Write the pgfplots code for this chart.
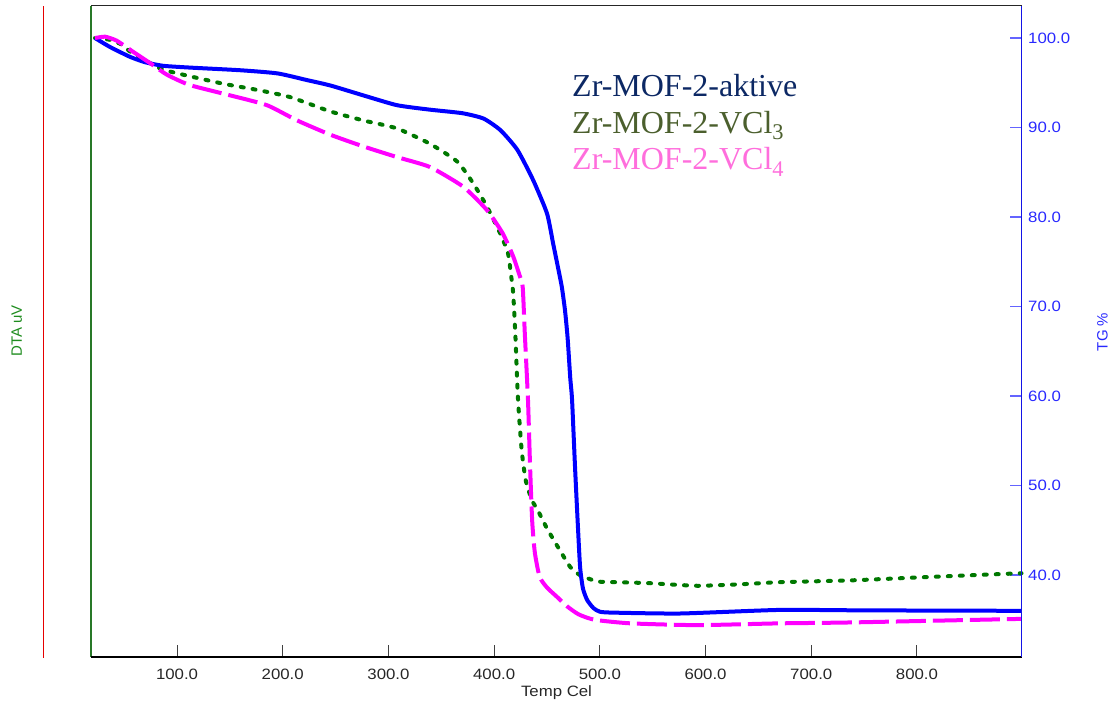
\documentclass[border=0pt]{standalone}
\usepackage{fontspec}
\setmainfont{Liberation Sans}
\newfontfamily\serifleg{Liberation Serif}
\newfontfamily\tickfont[FakeStretch=1.12]{Liberation Sans}
\usepackage{pgfplots}
\pgfplotsset{compat=1.18}
\definecolor{tgblue}{RGB}{0,0,255}
\definecolor{dtagreen}{RGB}{0,120,0}
\definecolor{magline}{RGB}{255,0,255}
\definecolor{axgreen}{RGB}{40,120,40}
\definecolor{rightblue}{RGB}{20,20,230}
\definecolor{ticklightblue}{RGB}{100,100,255}
\definecolor{labelblue}{RGB}{40,40,255}
\definecolor{dtalabel}{RGB}{30,140,30}
\definecolor{dtared}{RGB}{230,0,0}
\definecolor{legnavy}{RGB}{12,40,100}
\definecolor{legolive}{RGB}{75,95,45}
\definecolor{legpink}{RGB}{255,110,220}

\pgfplotstableread{
T Y
22.4 100.0
36.6 99.0
55.5 97.9
69.7 97.3
86.8 96.9
112 96.7
160 96.4
195 96.05
223 95.3
245 94.7
276 93.6
308 92.5
339 92.0
370 91.6
390 91.0
406 89.7
422 87.5
437 84.1
450 80.4
455.7 77.1
460 74.6
464 72.2
467 69.6
469.5 66.5
472 62
473.7 59.6
476.5 52.1
479 46
481.3 40.9
484 38.5
488 37.2
494 36.3
500 35.9
512 35.8
576 35.7
670 36.1
750 36.05
898.9 36.0
}\aktive

\pgfplotstableread{
T Y
22.4 100.0
36.6 99.8
49 99.2
55.5 98.5
84 96.6
106 95.9
143.5 94.9
176 94.2
207 93.4
245 91.8
276 90.8
308 89.9
339 88.2
365 86.2
380 83.8
393 81.2
405.6 78.2
413 76.0
416 73.5
418 71.5
420 67
422.6 59.6
426 54
430 50.5
436 48.3
441 47.3
450 45.2
462 42.8
472 40.9
481 40.0
494 39.4
500 39.25
545 39.1
592 38.8
639 39.0
670 39.2
737 39.4
815 39.8
898.9 40.2
}\vclthree

\pgfplotstableread{
T Y
22.4 100.0
32 100.15
43 99.7
58 98.5
74.5 97.2
90.5 95.9
112 94.75
150 93.6
185 92.5
213.5 90.8
245 89.2
276 87.9
308 86.7
339 85.6
370.6 83.4
393 80.8
408 78.2
418 75.6
424 73.5
427 72.2
429 67
432 59.6
434 52.1
436 46
438.5 42.5
443 39.8
450 38.6
460 37.5
469 36.5
480 35.6
495 35.0
529 34.6
592 34.4
670 34.6
737 34.7
898.9 35.1
}\vclfour

\begin{document}
\begin{tikzpicture}
\path[use as bounding box] (-91pt,-47pt) rectangle (1026pt,657pt);
\begin{axis}[
  at={(0pt,0pt)}, anchor=south west, scale only axis,
  width=930.5pt, height=651pt,
  xmin=18.6, xmax=898.9, ymin=30.84, ymax=103.58,
  axis line style={draw=none},
  xtick={100,200,300,400,500,600,700,800},
  xticklabels={100.0,200.0,300.0,400.0,500.0,600.0,700.0,800.0},
  ytick={40,50,60,70,80,90,100},
  yticklabels={40.0,50.0,60.0,70.0,80.0,90.0,100.0},
  xtick pos=bottom, ytick pos=right, yticklabel pos=right,
  tick align=inside,
  major tick length=12pt,
  xtick style={black!75, line width=1pt},
  ytick style={ticklightblue, line width=1.2pt},
  tick label style={font=\tickfont\fontsize{15}{18}\selectfont},
  xticklabel style={anchor=base, yshift=-23pt, text=black!85},
  yticklabel style={anchor=west, inner sep=0pt, xshift=6.5pt, text=labelblue},
  clip=false,
]
\addplot[dtagreen, line width=4pt, line cap=round, dash pattern=on 3pt off 9pt, smooth, tension=0.35] table {\vclthree};
\addplot[tgblue, line width=4pt, line join=round, smooth, tension=0.35] table {\aktive};
\addplot[magline, line width=4pt, dash pattern=on 30pt off 7pt, smooth, tension=0.35] table {\vclfour};
\end{axis}
% axis frame
\draw[axgreen, line width=1.5pt] (0pt,0pt) -- (0pt,651pt);
\draw[black!85, line width=1pt] (0pt,651pt) -- (930.5pt,651pt);
\draw[black, line width=1.3pt] (0pt,0pt) -- (930.5pt,0pt);
\draw[rightblue, line width=1.5pt] (930.5pt,0pt) -- (930.5pt,651pt);
% DTA axis
\draw[dtared, line width=1.3pt] (-47.7pt,-1pt) -- (-47.7pt,651pt);
\node[rotate=90, text=dtalabel, font=\fontsize{15}{18}\selectfont] at (-74.3pt,326pt) {DTA uV};
\node[rotate=90, text=labelblue, font=\fontsize{15}{18}\selectfont] at (1011.5pt,325pt) {TG \%};
\node[anchor=base, inner sep=0pt, text=black!85, font=\tickfont\fontsize{15}{18}\selectfont] at (465.5pt,-40pt) {Temp Cel};
% legend
\node[anchor=base west, inner sep=0pt, text=legnavy, font=\serifleg\fontsize{32}{36}\selectfont] at (481pt,560.3pt) {Zr-MOF-2-aktive};
\node[anchor=base west, inner sep=0pt, text=legolive, font=\serifleg\fontsize{32}{36}\selectfont] at (481pt,523.7pt) {Zr-MOF-2-VCl\textsubscript{3}};
\node[anchor=base west, inner sep=0pt, text=legpink, font=\serifleg\fontsize{32}{36}\selectfont] at (481pt,487pt) {Zr-MOF-2-VCl\textsubscript{4}};
\end{tikzpicture}
\end{document}
